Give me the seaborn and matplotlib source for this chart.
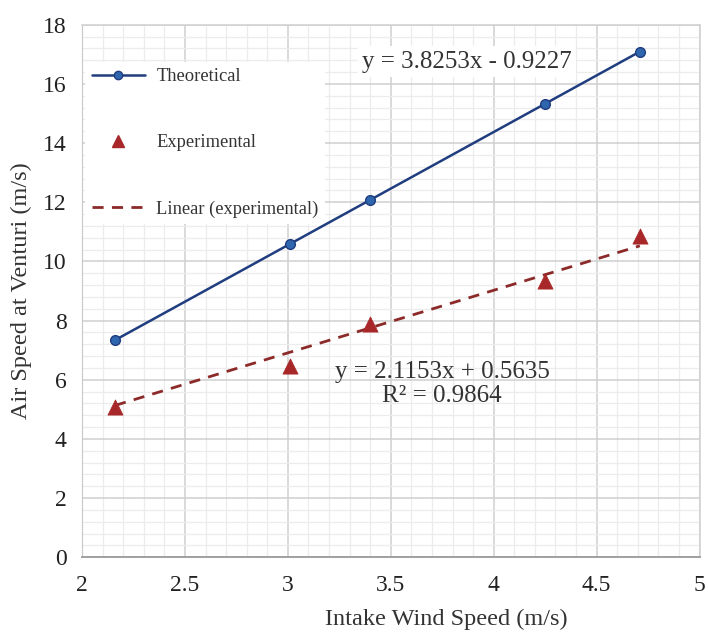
import numpy as np
import pandas as pd
import seaborn as sns
import matplotlib.pyplot as plt
from matplotlib.lines import Line2D
from matplotlib.ticker import MultipleLocator

intake_speed = [2.16, 3.01, 3.40, 4.25, 4.71]
theoretical = [7.34, 10.59, 12.08, 15.33, 17.09]
experimental = [5.08, 6.45, 7.88, 9.35, 10.85]
trend_slope = 2.1153
trend_intercept = 0.5635

sns.set_style("white")
plt.rcParams['font.family'] = ['Liberation Serif', 'DejaVu Serif']

fig, ax = plt.subplots(figsize=(7.08, 6.34), dpi=100)
fig.subplots_adjust(left=0.116, right=0.988, top=0.961, bottom=0.121)

theo_color = '#1f3d7f'
theo_marker = '#2f66ad'
exp_color = '#a8282a'
trend_color = '#8c2a2a'

df = pd.DataFrame({'x': intake_speed, 'theo': theoretical, 'exp': experimental})
trend_x = [intake_speed[0], intake_speed[-1]]
trend_df = pd.DataFrame({'x': trend_x,
                         'y': [trend_slope * v + trend_intercept for v in trend_x]})

sns.lineplot(data=df, x='x', y='theo', ax=ax, color=theo_color, lw=1.8,
             marker='o', markersize=7, markerfacecolor=theo_marker,
             markeredgecolor=theo_color, markeredgewidth=1, zorder=4)
sns.lineplot(data=trend_df, x='x', y='y', ax=ax, color=trend_color, lw=2,
             linestyle=(0, (4, 3)), zorder=3)
sns.scatterplot(data=df, x='x', y='exp', ax=ax, marker='^', s=120,
                color=exp_color, edgecolor=exp_color, linewidth=0.5, zorder=5)

ax.set_xlim(2, 5)
ax.set_ylim(0, 18)
ax.xaxis.set_minor_locator(MultipleLocator(0.1))
ax.yaxis.set_major_locator(MultipleLocator(2))
ax.yaxis.set_minor_locator(MultipleLocator(0.4))
ax.set_xticks(np.arange(2, 5.01, 0.5))
ax.set_xticklabels(['2', '2.5', '3', '3.5', '4', '4.5', '5'])
ax.grid(which='major', color='#cfcfcf', lw=1.1)
ax.grid(which='minor', color='#ececec', lw=0.9)
ax.set_axisbelow(True)

for side in ['top', 'right']:
    ax.spines[side].set_color('#d0d0d0')
    ax.spines[side].set_linewidth(1.1)
ax.spines['left'].set_color('#c8c8c8')
ax.spines['bottom'].set_color('#9a9a9a')
ax.spines['bottom'].set_linewidth(1.3)
ax.tick_params(axis='both', which='major', labelsize=17, length=5,
               color='#9a9a9a', labelcolor='#222222', direction='out')
ax.tick_params(axis='both', which='minor', length=0)
ax.tick_params(axis='x', pad=8)
ax.tick_params(axis='y', pad=6)

ax.set_xlabel('Intake Wind Speed (m/s)', fontsize=17.5, color='#333333')
ax.set_ylabel('Air Speed at Venturi (m/s)', fontsize=17.5, color='#333333')
ax.xaxis.set_label_coords(0.59, -0.096)
ax.yaxis.set_label_coords(-0.081, 0.5)

# regression equations
ax.text(3.87, 16.75, 'y = 3.8253x - 0.9227', fontsize=18, color='#333333',
        ha='center', va='center', zorder=6,
        bbox=dict(facecolor='white', edgecolor='none', pad=3))
ax.text(3.75, 5.85, 'y = 2.1153x + 0.5635\nR² = 0.9864', fontsize=18,
        color='#333333', ha='center', va='center', linespacing=1.15, zorder=6)

handles = [
    Line2D([0], [0], color=theo_color, lw=1.8, marker='o', markersize=6,
           markerfacecolor=theo_marker, markeredgecolor=theo_color),
    Line2D([0], [0], color='none', marker='^', markersize=9,
           markerfacecolor=exp_color, markeredgecolor=exp_color),
    Line2D([0], [0], color=trend_color, lw=2, linestyle=(0, (4, 3))),
]
labels = ['Theoretical', 'Experimental', 'Linear (experimental)']
leg = ax.legend(handles, labels, loc='upper left', bbox_to_anchor=(0.005, 0.93),
                borderaxespad=0, fontsize=13.3, frameon=True, facecolor='white',
                edgecolor='none', framealpha=1, fancybox=False, labelspacing=2.65,
                handlelength=2.9, handletextpad=0.6, borderpad=0.35)
for t in leg.get_texts():
    t.set_color('#333333')
leg.set_zorder(3.5)

fig.savefig('out.png', dpi=100)
